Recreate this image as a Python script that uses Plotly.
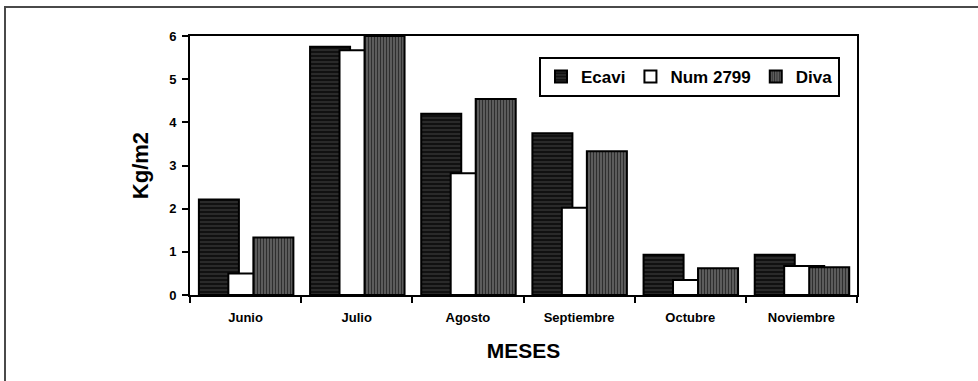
import plotly.graph_objects as go

# Monthly yield per cultivar (kg/m2)
months = ["Junio", "Julio", "Agosto", "Septiembre", "Octubre", "Noviembre"]
ecavi = [2.21, 5.75, 4.20, 3.75, 0.93, 0.93]
num2799 = [0.50, 5.67, 2.82, 2.02, 0.35, 0.67]
diva = [1.33, 6.00, 4.54, 3.33, 0.62, 0.64]
y_ticks = [0, 1, 2, 3, 4, 5, 6]

FONT = "Liberation Sans, Arial, sans-serif"
W, H = 978, 381
ML, MR, MT, MB = 190, 121, 36, 86
PW, PH = W - ML - MR, H - MT - MB

BAR_W = 0.36
line = dict(color="black", width=2)

fig = go.Figure()
fig.add_trace(go.Bar(
    name="Ecavi", x=months, y=ecavi, width=BAR_W, offset=-0.42,
    marker=dict(color="#151515", line=line,
                pattern=dict(shape="-", bgcolor="#111111", fgcolor="#3a3a3a",
                             size=4, solidity=0.3, fillmode="replace")),
))
fig.add_trace(go.Bar(
    name="Num 2799", x=months, y=num2799, width=BAR_W, offset=-0.155,
    marker=dict(color="white", line=line),
))
fig.add_trace(go.Bar(
    name="Diva", x=months, y=diva, width=BAR_W, offset=0.07,
    marker=dict(color="#505050", line=line,
                pattern=dict(shape="|", bgcolor="#5c5c5c", fgcolor="#2e2e2e",
                             size=3, solidity=0.35, fillmode="replace")),
))

# outer frame around the figure
fig.add_shape(type="rect", xref="paper", yref="paper",
              x0=(5 - ML) / PW, x1=(W + 5 - ML) / PW,
              y0=-(H + 10 - MT - PH) / PH, y1=(PH + MT - 7) / PH,
              line=dict(color="#4a4a4a", width=2), layer="above")

fig.update_layout(
    width=W, height=H,
    margin=dict(l=ML, r=MR, t=MT, b=MB, autoexpand=False),
    paper_bgcolor="white", plot_bgcolor="white",
    barmode="overlay",
    font=dict(family=FONT, color="black", size=13, weight="bold"),
    showlegend=True,
    legend=dict(
        orientation="h", x=(539 - ML) / PW, xanchor="left",
        y=(PH + MT - 57) / PH, yanchor="top",
        bgcolor="white", bordercolor="black", borderwidth=2,
        font=dict(family=FONT, size=17, weight="bold"),
        itemwidth=30, tracegroupgap=0,
    ),
    xaxis=dict(
        type="category", tickson="boundaries", ticks="outside", ticklen=6,
        tickwidth=2, tickcolor="black", showline=True, linewidth=2,
        linecolor="black", mirror=True, showgrid=False,
        tickfont=dict(size=13, weight="bold"), ticklabelstandoff=9,
        title=dict(text="MESES", font=dict(size=21, weight="bold"), standoff=20),
        range=[-0.5, 5.5],
    ),
    yaxis=dict(
        range=[0, 6], tickvals=y_ticks, ticks="outside", ticklen=6,
        tickwidth=2, tickcolor="black", showline=True, linewidth=2,
        linecolor="black", mirror=True, showgrid=False, zeroline=False,
        tickfont=dict(size=13, weight="bold"), ticklabelstandoff=3,
        title=dict(text="Kg/m2", font=dict(size=22, weight="bold"), standoff=14),
    ),
    # inner halves of the crossing tick marks
    xaxis2=dict(overlaying="x", anchor="y", range=[-0.5, 5.5],
                tickvals=[0.5, 1.5, 2.5, 3.5, 4.5], ticks="inside", ticklen=4,
                tickwidth=2, tickcolor="black", showticklabels=False,
                showgrid=False, zeroline=False, showline=False),
    yaxis2=dict(overlaying="y", anchor="x", side="left", range=[0, 6],
                tickvals=y_ticks, ticks="inside", ticklen=5, tickwidth=2,
                tickcolor="black", showticklabels=False, showgrid=False,
                zeroline=False, showline=False),
)

fig.write_html("out.html")
